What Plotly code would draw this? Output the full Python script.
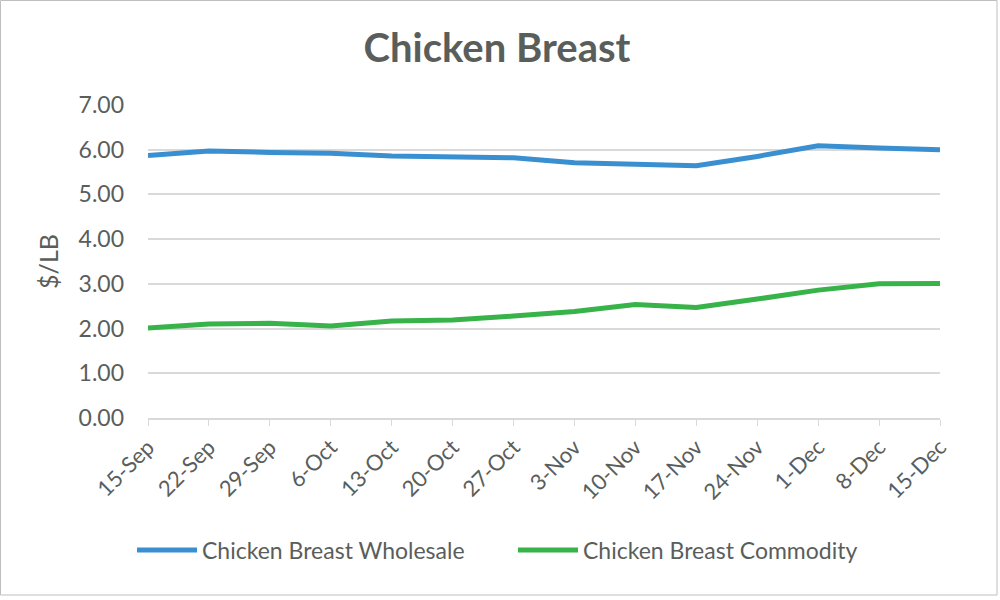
import plotly.graph_objects as go

dates = ["15-Sep", "22-Sep", "29-Sep", "6-Oct", "13-Oct", "20-Oct", "27-Oct",
         "3-Nov", "10-Nov", "17-Nov", "24-Nov", "1-Dec", "8-Dec", "15-Dec"]
wholesale = [5.87, 5.97, 5.94, 5.92, 5.86, 5.85, 5.82, 5.71, 5.67, 5.64, 5.85, 6.09, 6.04, 6.00]
commodity = [2.01, 2.10, 2.12, 2.06, 2.17, 2.19, 2.28, 2.38, 2.54, 2.47, 2.66, 2.86, 3.00, 3.01]
y_ticks = [0, 1, 2, 3, 4, 5, 6, 7]

grey = "#5a5e5b"
L, R, T, B = 148, 60, 105, 182
W, H = 1000, 600
pw, ph = W - L - R, H - T - B

fig = go.Figure()
fig.add_trace(go.Scatter(x=list(range(len(dates))), y=wholesale, mode="lines",
                         name="Chicken Breast Wholesale",
                         line=dict(color="#3a8fd0", width=5)))
fig.add_trace(go.Scatter(x=list(range(len(dates))), y=commodity, mode="lines",
                         name="Chicken Breast Commodity",
                         line=dict(color="#37b34a", width=5)))

fig.update_layout(
    width=W, height=H,
    paper_bgcolor="white", plot_bgcolor="white",
    margin=dict(l=L, r=R, t=T, b=B),
    font=dict(family="Lato", color=grey),
    title=dict(text="<b>Chicken Breast</b>", x=0.497, xanchor="center",
               y=1 - 48 / H, yanchor="middle", font=dict(size=40, color=grey)),
    showlegend=True,
    legend=dict(orientation="h", x=(132 - L) / pw, xanchor="left", y=(T + ph - 550) / ph,
                yanchor="middle", font=dict(size=23, color=grey), itemwidth=60,
                entrywidth=306, entrywidthmode="pixels"),
    xaxis=dict(tickmode="array", tickvals=list(range(len(dates))), ticktext=dates,
               range=[0, 13], tickangle=-45, tickfont=dict(size=22, color=grey),
               showgrid=False, showline=True, linecolor="#d9d9d9", linewidth=1.5,
               ticks="outside", ticklen=6, tickcolor="#d9d9d9", zeroline=False),
    yaxis=dict(range=[0, 7], tickvals=y_ticks, tickformat=".2f",
               tickfont=dict(size=23, color=grey), showgrid=True,
               gridcolor="#d9d9d9", gridwidth=1.5, zeroline=False,
               title=dict(text="$/LB", font=dict(size=25, color=grey), standoff=12),
               ticks="", ticklabelstandoff=23),
    shapes=[dict(type="rect", xref="paper", yref="paper",
                 x0=(0.5 - L) / pw, x1=(997 - L) / pw,
                 y0=(T + ph - 595) / ph, y1=(T + ph - 0.5) / ph,
                 line=dict(color="#bfbfbf", width=1))],
)

fig.write_html("out.html", config={"displayModeBar": False},
               post_script="document.body.style.margin='0';")
